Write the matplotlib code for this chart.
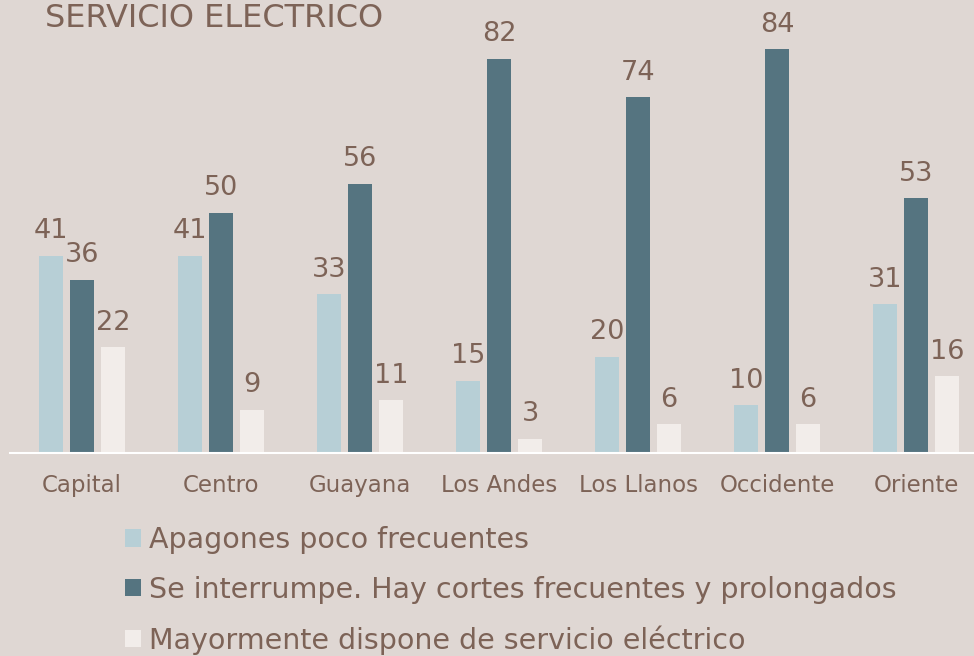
import numpy as np
import matplotlib as mpl
import matplotlib.pyplot as plt

regions = ['Capital', 'Centro', 'Guayana', 'Los Andes', 'Los Llanos', 'Occidente', 'Oriente']
apagones = [41, 41, 33, 15, 20, 10, 31]
interrumpe = [36, 50, 56, 82, 74, 84, 53]
dispone = [22, 9, 11, 3, 6, 6, 16]
series_names = ['Apagones poco frecuentes',
                'Se interrumpe. Hay cortes frecuentes y prolongados',
                'Mayormente dispone de servicio eléctrico']

bg = '#DFD7D3'
txt = '#7D6357'
colors = ['#B7CFD6', '#557480', '#F2EDEA']

mpl.rcParams['font.family'] = ['DejaVu Sans']

W, H = 974, 656
fig = plt.figure(figsize=(W / 100, H / 100), dpi=100, facecolor=bg)
ax = fig.add_axes([10 / W, 203 / H, 964 / W, 423 / H], facecolor=bg)

x = np.arange(len(regions))
width = 0.176
step = 0.223
for i, (vals, c, name) in enumerate(zip([apagones, interrumpe, dispone], colors, series_names)):
    bars = ax.bar(x + (i - 1) * step, vals, width, color=c, label=name)
    for b, v in zip(bars, vals):
        ax.annotate(str(v), (b.get_x() + b.get_width() / 2, v), xytext=(0, 12.5),
                    textcoords='offset points', ha='center', va='baseline',
                    fontsize=19.5, color=txt)

ax.set_xlim(-0.518, 6.417)
ax.set_ylim(0, 423 / 4.81)
ax.set_xticks(x)
ax.set_xticklabels(regions, fontsize=16.5, color=txt)
ax.tick_params(axis='x', length=0, pad=15)
ax.set_yticks([])
for s in ['top', 'right', 'left']:
    ax.spines[s].set_visible(False)
ax.spines['bottom'].set_color('white')
ax.spines['bottom'].set_linewidth(1.5)

fig.text(383 / W, 1 - 27 / H, 'SERVICIO ELECTRICO', ha='right', va='baseline',
         fontsize=23, color=txt)

leg = fig.legend(loc='upper left', bbox_to_anchor=(125 / W, 1 - 526 / H), frameon=False,
                 handlelength=0.55, handleheight=0.55,
                 handletextpad=0.3, labelspacing=0.76, borderpad=0, borderaxespad=0,
                 prop={'size': 20.5})
for t in leg.get_texts():
    t.set_color(txt)

fig.savefig('out.png', dpi=100, facecolor=bg)
